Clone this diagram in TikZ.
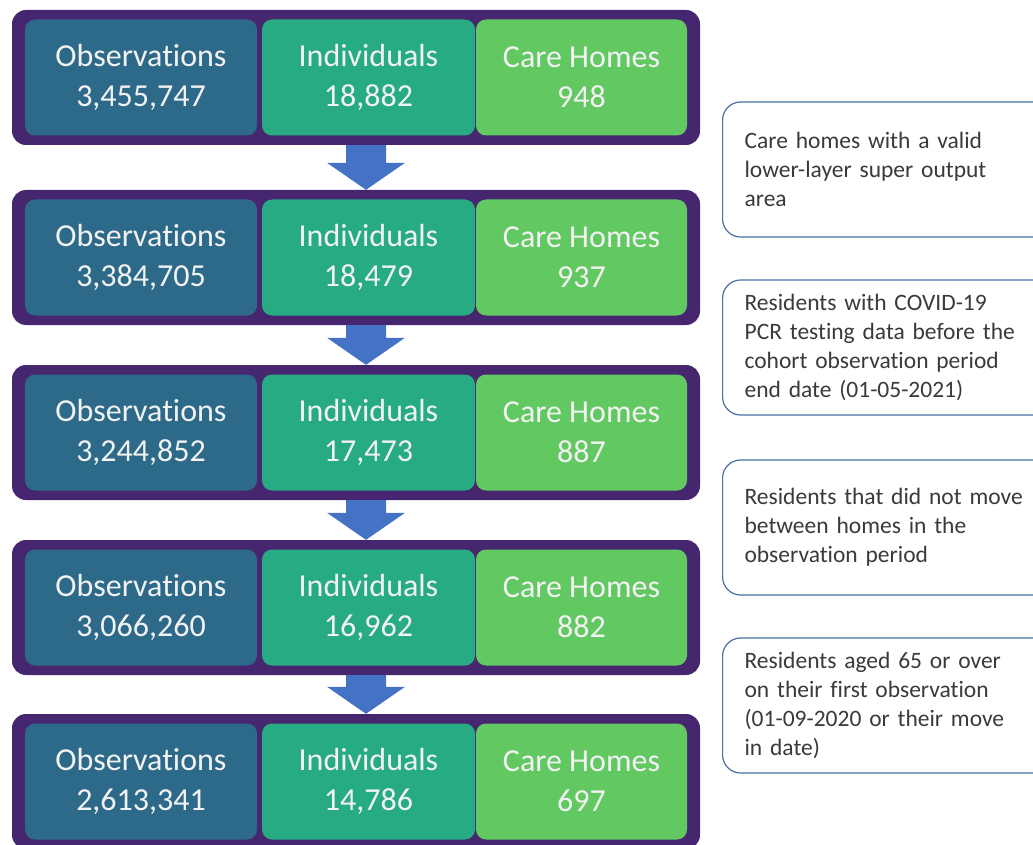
\documentclass[tikz,border=0pt]{standalone}
\usepackage{fontspec}
\setmainfont{Carlito}[Ligatures={NoCommon,NoRequired,NoContextual}, Contextuals=NoAlternate]
\usetikzlibrary{positioning}

\definecolor{rowpurple}{HTML}{45266F}
\definecolor{obsblue}{HTML}{2D6A8A}
\definecolor{indgreen}{HTML}{27AB83}
\definecolor{homegreen}{HTML}{62C962}
\definecolor{arrowblue}{HTML}{4472C4}
\definecolor{noteline}{HTML}{4A6FA5}
\definecolor{notetext}{HTML}{3A3A3A}

\tikzset{
	rowbox/.style={fill=rowpurple, rounded corners=14pt, minimum width=688pt,
		minimum height=135pt, inner sep=0pt},
	cellbox/.style={rounded corners=10pt, minimum height=116pt, inner sep=0pt,
		text=white!95!black, align=center, font=\fontsize{32}{40}\selectfont},
	notebox/.style={draw=noteline, line width=1.2pt, fill=white, rounded corners=18pt,
		minimum height=135pt, inner xsep=22pt, inner ysep=4pt, text width=290pt,
		align=left, text=notetext, font=\fontsize{23.5}{29}\selectfont, anchor=west}
}

\begin{document}
\begin{tikzpicture}[x=1pt, y=-1pt]
	\useasboundingbox (0, 0) rectangle (1033, 845);

	% the five stages
	\foreach \y/\obs/\ind/\home [count=\n] in {
			77.5/{3,455,747}/{18,882}/948,
			257.5/{3,384,705}/{18,479}/937,
			432.5/{3,244,852}/{17,473}/887,
			607.5/{3,066,260}/{16,962}/882,
			781.5/{2,613,341}/{14,786}/697} {
		\node[rowbox] (row\n) at (356, \y) {};
		\node[cellbox, fill=obsblue, minimum width=232pt] (obs\n) at (141, \y) {Observations\\\obs};
		\node[cellbox, fill=indgreen, minimum width=213pt] (ind\n) at (368.5, \y) {Individuals\\\ind};
		\node[cellbox, fill=homegreen, minimum width=211pt] (home\n) at (581.5, \y) {Care Homes\\\home};
	}

	% block arrows between the stages
	\foreach \n [count=\m from 2] in {1, ..., 4} {
		\coordinate (tail\n) at ([xshift=10pt]row\n.south);
		\coordinate (tip\n) at ([xshift=10pt]row\m.north);
		\fill[arrowblue] ([xshift=-20pt]tail\n) -- ([xshift=-20pt, yshift=27pt]tip\n)
			-- ([xshift=-39pt, yshift=27pt]tip\n) -- (tip\n)
			-- ([xshift=39pt, yshift=27pt]tip\n) -- ([xshift=20pt, yshift=27pt]tip\n)
			-- ([xshift=20pt]tail\n) -- cycle;
	}

	% exclusion criteria
	\node[notebox] (note1) at (722, 169.5) {Care homes with a valid\\lower-layer super output\\area};
	\node[notebox] (note2) at (722, 347.5) {Residents with COVID-19\\PCR testing data before the\\cohort observation period\\end date (01-05-2021)};
	\node[notebox] (note3) at (722, 527.5) {Residents that did not move\\between homes in the\\observation period};
	\node[notebox] (note4) at (722, 705.5) {Residents aged 65 or over\\on their first observation\\(01-09-2020 or their move\\in date)};
\end{tikzpicture}
\end{document}
